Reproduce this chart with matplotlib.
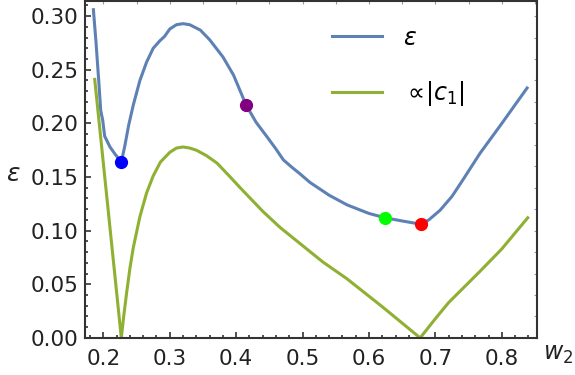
import matplotlib
matplotlib.use('Agg')
import matplotlib.pyplot as plt
from matplotlib.ticker import MultipleLocator, NullFormatter, FormatStrFormatter

# eps curve (blue)
w_eps = [0.185, 0.189, 0.193, 0.196, 0.199, 0.202, 0.206, 0.210, 0.218, 0.227,
         0.232, 0.238, 0.245, 0.255, 0.265, 0.275, 0.285, 0.292, 0.300, 0.310,
         0.320, 0.330, 0.346, 0.360, 0.380, 0.396, 0.415, 0.430, 0.447, 0.460,
         0.471, 0.484, 0.496, 0.511, 0.540, 0.567, 0.600, 0.624, 0.650, 0.678,
         0.690, 0.707, 0.725, 0.741, 0.767, 0.800, 0.838]
eps = [0.306, 0.275, 0.240, 0.212, 0.203, 0.188, 0.183, 0.178, 0.171, 0.164,
       0.178, 0.198, 0.217, 0.240, 0.257, 0.270, 0.277, 0.281, 0.288, 0.292,
       0.293, 0.292, 0.287, 0.278, 0.262, 0.245, 0.217, 0.201, 0.187, 0.176,
       0.166, 0.159, 0.153, 0.145, 0.133, 0.124, 0.116, 0.112, 0.109, 0.106,
       0.110, 0.119, 0.132, 0.147, 0.172, 0.200, 0.233]

# |c1| curve (green)
w_c1 = [0.187, 0.227, 0.231, 0.235, 0.240, 0.245, 0.255, 0.265, 0.275, 0.286,
        0.300, 0.310, 0.320, 0.330, 0.340, 0.355, 0.371, 0.388, 0.406, 0.440,
        0.466, 0.496, 0.530, 0.567, 0.620, 0.677, 0.700, 0.720, 0.767, 0.800,
        0.839]
c1 = [0.241, 0.000, 0.022, 0.042, 0.065, 0.084, 0.113, 0.135, 0.151, 0.164,
      0.173, 0.177, 0.178, 0.177, 0.175, 0.170, 0.163, 0.152, 0.140, 0.118,
      0.103, 0.088, 0.071, 0.055, 0.029, 0.000, 0.018, 0.033, 0.062, 0.083,
      0.112]

# highlighted points
pt_w = [0.227, 0.415, 0.624, 0.678]
pt_e = [0.164, 0.217, 0.112, 0.106]
pt_col = ['#0000FF', '#800080', '#00FF00', '#FF0000']

fig = plt.figure(figsize=(5.75, 3.75), dpi=100)
ax = fig.add_axes([0.148, 0.099, 0.786, 0.898])

ax.plot(w_eps, eps, color='#5E81B5', lw=2.2, solid_joinstyle='round', label=r'$\varepsilon$')
ax.plot(w_c1, c1, color='#8FB032', lw=2.2, solid_joinstyle='round', label=r'$\propto\!|c_1|$')
for x, y, c in zip(pt_w, pt_e, pt_col):
    ax.plot(x, y, 'o', color=c, ms=8.5, zorder=5)

ax.set_xlim(0.1725, 0.853)
ax.set_ylim(0, 0.314)

ax.xaxis.set_major_locator(MultipleLocator(0.1))
ax.xaxis.set_minor_locator(MultipleLocator(0.02))
ax.yaxis.set_major_locator(MultipleLocator(0.05))
ax.yaxis.set_minor_locator(MultipleLocator(0.01))
ax.xaxis.set_major_formatter(FormatStrFormatter('%.1f'))
ax.yaxis.set_major_formatter(FormatStrFormatter('%.2f'))
ax.tick_params(which='both', direction='in', colors='#222222', labelsize=15.5,
               width=1.1, top=False, right=False)
ax.tick_params(which='major', length=4.5)
ax.tick_params(which='minor', length=2.5)
ax.tick_params(axis='x', pad=8)
ax.tick_params(axis='y', pad=5)

# light ticks on the top and right edges
top = ax.secondary_xaxis('top')
top.xaxis.set_major_locator(MultipleLocator(0.05))
top.xaxis.set_major_formatter(NullFormatter())
top.tick_params(direction='in', length=2.5, width=0.8, colors='#999999')
right = ax.secondary_yaxis('right')
right.yaxis.set_major_locator(MultipleLocator(0.02))
right.yaxis.set_major_formatter(NullFormatter())
right.tick_params(direction='in', length=2.5, width=0.8, colors='#999999')
for s in ax.spines.values():
    s.set_color('#333333')
    s.set_linewidth(1.5)
top.spines['top'].set_visible(False)
right.spines['right'].set_visible(False)

ax.legend(loc='upper left', bbox_to_anchor=(0.50, 0.99), frameon=False,
          fontsize=17, handlelength=2.1, handletextpad=0.9, labelspacing=1.25)

fig.text(0.010, 0.535, r'$\varepsilon$', fontsize=18, color='#222222', va='center')
fig.text(0.945, 0.055, r'$w_2$', fontsize=17, color='#222222', va='center')

fig.savefig('out.png', dpi=100)
